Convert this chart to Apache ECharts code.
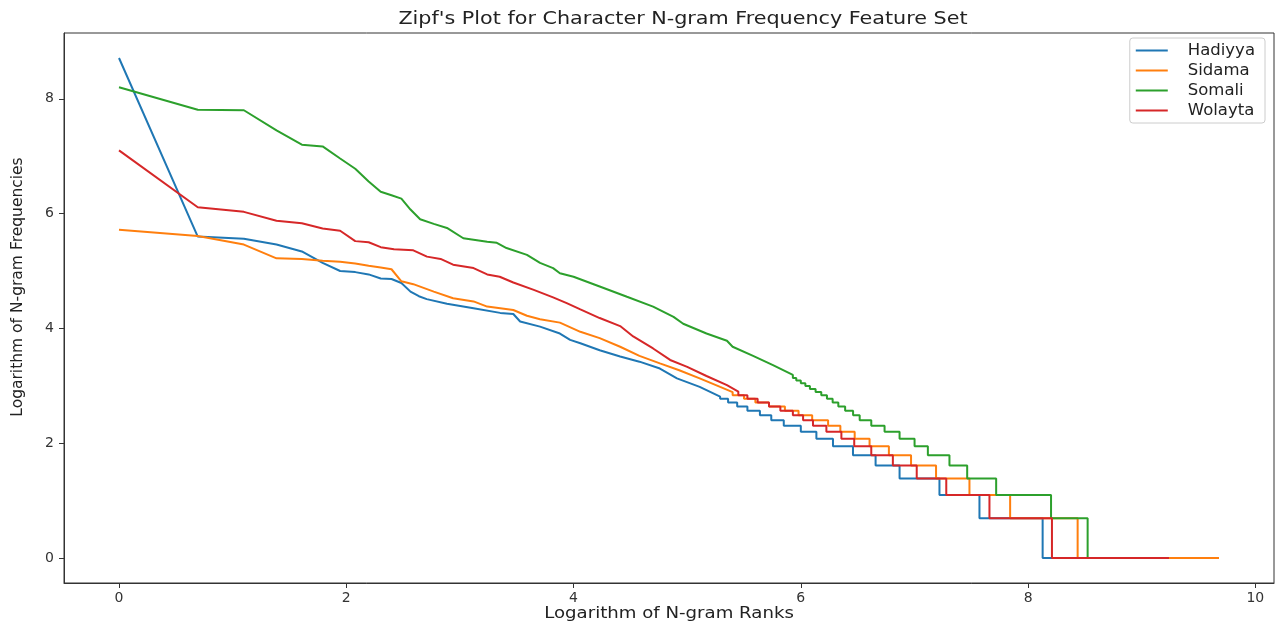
<!DOCTYPE html>
<html><head><meta charset="utf-8">
<script src="https://cdn.jsdelivr.net/npm/echarts@6/dist/echarts.min.js"></script>
<style>html,body{margin:0;padding:0;background:#fff}#c{width:1279px;height:624px}</style>
</head><body><div id="c"></div>
<script>
const seriesNames = ['Hadiyya', 'Sidama', 'Somali', 'Wolayta'];
const colors = ['#1f77b4', '#ff7f0e', '#2ca02c', '#d62728'];
const xTicks = [0, 2, 4, 6, 8, 10];
const yTicks = [0, 2, 4, 6, 8];

// Head of each curve: log(rank), log(frequency)
const hadiyyaX = [0, 0.693, 1.099, 1.386, 1.609, 1.792, 1.946, 2.079, 2.197, 2.303, 2.398, 2.485, 2.565, 2.639, 2.708, 2.886, 3.12, 3.354, 3.47, 3.53, 3.705, 3.88, 3.97, 4.06, 4.23, 4.41, 4.58, 4.76, 4.91, 5.11, 5.29];
const hadiyyaY = [8.71, 5.60, 5.56, 5.46, 5.34, 5.14, 5.00, 4.98, 4.94, 4.87, 4.86, 4.79, 4.64, 4.56, 4.51, 4.43, 4.35, 4.27, 4.25, 4.12, 4.03, 3.91, 3.80, 3.74, 3.62, 3.51, 3.42, 3.30, 3.13, 2.98, 2.81];
// Tail: log(rank) where frequency k ends, for k = top level down to 1
const hadiyyaTop = 16;
const hadiyyaDrops = [5.36, 5.44, 5.53, 5.64, 5.74, 5.85, 6.00, 6.137, 6.283, 6.459, 6.658, 6.869, 7.22, 7.572, 8.128, 9.05];

const sidamaX = [0, 0.693, 1.099, 1.386, 1.609, 1.792, 1.946, 2.079, 2.197, 2.303, 2.398, 2.485, 2.59, 2.77, 2.94, 3.12, 3.24, 3.47, 3.59, 3.705, 3.88, 4.06, 4.23, 4.41, 4.58, 4.76, 4.93, 5.11, 5.29, 5.40];
const sidamaY = [5.72, 5.61, 5.46, 5.22, 5.21, 5.18, 5.16, 5.13, 5.09, 5.06, 5.03, 4.82, 4.77, 4.64, 4.525, 4.47, 4.38, 4.32, 4.22, 4.16, 4.10, 3.94, 3.83, 3.68, 3.52, 3.39, 3.27, 3.13, 2.98, 2.89];
const sidamaTop = 17;
const sidamaDrops = [5.50, 5.60, 5.72, 5.86, 5.98, 6.10, 6.24, 6.348, 6.474, 6.605, 6.775, 6.97, 7.19, 7.484, 7.842, 8.436, 9.68];

const somaliX = [0, 0.693, 1.099, 1.386, 1.609, 1.792, 1.946, 2.079, 2.197, 2.303, 2.398, 2.485, 2.565, 2.65, 2.77, 2.886, 3.03, 3.24, 3.325, 3.41, 3.59, 3.705, 3.82, 3.88, 4.0, 4.23, 4.47, 4.70, 4.88, 4.965, 5.17, 5.35, 5.40, 5.58, 5.755, 5.93];
const somaliY = [8.20, 7.81, 7.80, 7.45, 7.20, 7.17, 6.96, 6.78, 6.56, 6.38, 6.32, 6.26, 6.07, 5.90, 5.82, 5.75, 5.57, 5.51, 5.49, 5.40, 5.28, 5.14, 5.05, 4.96, 4.90, 4.73, 4.55, 4.38, 4.20, 4.08, 3.91, 3.785, 3.68, 3.52, 3.36, 3.19];
const somaliTop = 23;
const somaliDrops = [5.96, 6.00, 6.04, 6.08, 6.13, 6.18, 6.23, 6.28, 6.33, 6.39, 6.46, 6.518, 6.62, 6.737, 6.869, 7.001, 7.118, 7.308, 7.464, 7.719, 8.202, 8.524, 9.2];

const wolaytaX = [0, 0.693, 1.099, 1.386, 1.609, 1.792, 1.946, 2.079, 2.197, 2.303, 2.42, 2.59, 2.71, 2.83, 2.94, 3.12, 3.24, 3.35, 3.47, 3.65, 3.82, 3.94, 4.06, 4.23, 4.41, 4.525, 4.70, 4.85, 5.0, 5.17, 5.35, 5.45];
const wolaytaY = [7.10, 6.11, 6.03, 5.875, 5.83, 5.74, 5.70, 5.52, 5.50, 5.415, 5.38, 5.36, 5.25, 5.21, 5.11, 5.05, 4.94, 4.90, 4.80, 4.67, 4.54, 4.44, 4.33, 4.18, 4.04, 3.86, 3.65, 3.45, 3.33, 3.17, 3.01, 2.90];
const wolaytaTop = 17;
const wolaytaDrops = [5.53, 5.62, 5.72, 5.82, 5.93, 6.02, 6.107, 6.225, 6.357, 6.47, 6.62, 6.81, 7.02, 7.28, 7.66, 8.21, 9.24];

function buildCurve(xs, ys, top, drops) {
  const pts = xs.map((x, i) => [x, ys[i]]);
  let prevX = xs[xs.length - 1];
  drops.forEach((d, i) => {
    const y = Math.log(top - i);
    pts.push([prevX, y]);
    pts.push([d, y]);
    prevX = d;
  });
  return pts;
}

const curves = [
  buildCurve(hadiyyaX, hadiyyaY, hadiyyaTop, hadiyyaDrops),
  buildCurve(sidamaX, sidamaY, sidamaTop, sidamaDrops),
  buildCurve(somaliX, somaliY, somaliTop, somaliDrops),
  buildCurve(wolaytaX, wolaytaY, wolaytaTop, wolaytaDrops)
];

let xmax = 0, ymax = 0;
curves.forEach(c => c.forEach(p => { xmax = Math.max(xmax, p[0]); ymax = Math.max(ymax, p[1]); }));
const xmin = -0.05 * xmax, ymin = -0.05 * ymax;
xmax = xmax * 1.05; ymax = ymax * 1.05;

const FONT = 'DejaVu Sans';
const chart = echarts.init(document.getElementById('c'));
chart.setOption({
  animation: false,
  backgroundColor: '#fff',
  textStyle: { fontFamily: FONT },
  grid: { left: 64, right: 5, top: 33, bottom: 41, show: true, borderColor: '#333', borderWidth: 1, containLabel: false },
  legend: {
    data: seriesNames, orient: 'vertical', right: 14, top: 38,
    icon: 'rect', itemWidth: 32, itemHeight: 2, itemGap: 3,
    backgroundColor: '#fff', borderColor: '#ccc', borderWidth: 1, borderRadius: 3,
    padding: [4, 10, 4, 6],
    textStyle: { fontFamily: FONT, fontSize: 16.5, color: '#222', padding: [0, 0, 0, 15] }
  },
  xAxis: {
    type: 'value', min: xmin, max: xmax,
    splitLine: { show: false },
    axisLine: { show: true, onZero: false, lineStyle: { color: '#333' } },
    axisTick: { show: true, inside: false, length: 5, customValues: xTicks, lineStyle: { color: '#333' } },
    axisLabel: { customValues: xTicks, fontSize: 14, color: '#333', margin: 8, formatter: v => String(v) }
  },
  yAxis: {
    type: 'value', min: ymin, max: ymax,
    splitLine: { show: false },
    axisLine: { show: true, onZero: false, lineStyle: { color: '#333' } },
    axisTick: { show: true, inside: false, length: 5, customValues: yTicks, lineStyle: { color: '#333' } },
    axisLabel: { customValues: yTicks, fontSize: 14, color: '#333', margin: 10, formatter: v => String(v) }
  },
  graphic: [
    { type: 'text', x: 683, y: 19, scaleX: 1.15,
      style: { text: "Zipf's Plot for Character N-gram Frequency Feature Set", fontFamily: FONT, fontSize: 18, fill: '#222', align: 'center', verticalAlign: 'middle' } },
    { type: 'text', x: 669, y: 614, scaleX: 1.17,
      style: { text: 'Logarithm of N-gram Ranks', fontFamily: FONT, fontSize: 15.5, fill: '#222', align: 'center', verticalAlign: 'middle' } },
    { type: 'text', x: 18, y: 287, rotation: Math.PI / 2,
      style: { text: 'Logarithm of N-gram Frequencies', fontFamily: FONT, fontSize: 15.5, fill: '#222', align: 'center', verticalAlign: 'middle' } }
  ],
  series: curves.map((c, i) => ({
    name: seriesNames[i], type: 'line', data: c, showSymbol: false, symbol: 'none',
    lineStyle: { width: 2, color: colors[i] }, itemStyle: { color: colors[i] }, z: 2 + i
  }))
});
</script></body></html>
